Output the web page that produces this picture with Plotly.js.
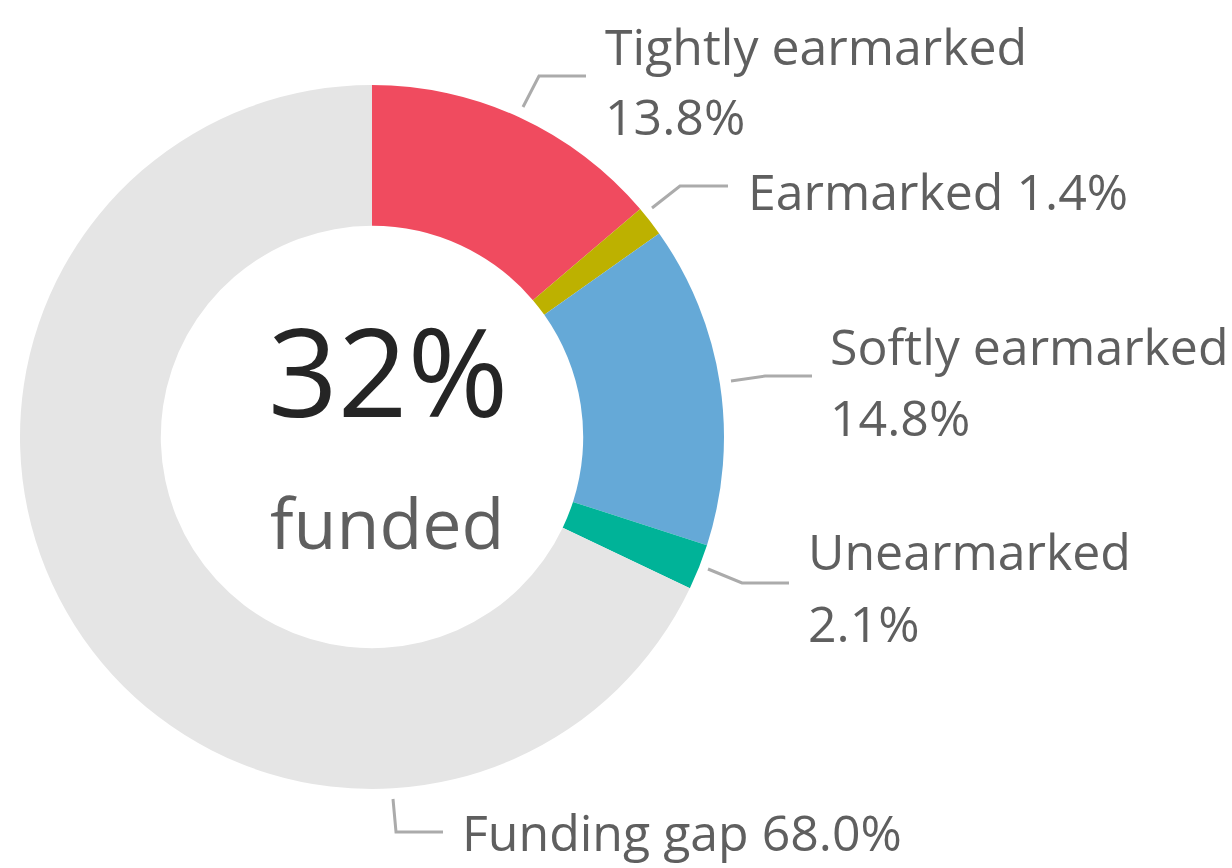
<!DOCTYPE html>
<html>
<head>
<meta charset="utf-8">
<script src="https://cdn.plot.ly/plotly-3.0.1.min.js"></script>
<style>html,body{margin:0;padding:0;background:#fff;}#chart{width:1232px;height:868px;}</style>
</head>
<body>
<div id="chart"></div>
<script>
// Data
const categories = ["Tightly earmarked", "Earmarked", "Softly earmarked", "Unearmarked", "Funding gap"];
const values = [13.8, 1.4, 14.8, 2.1, 68.0];
const valueLabels = ["13.8%", "1.4%", "14.8%", "2.1%", "68.0%"];
const centerValue = "32%";
const centerLabel = "funded";

// Styles & layout (pixel positions of labels / leader lines)
const colors = ["#F04B5F", "#BDB100", "#65A9D7", "#00B398", "#E5E5E5"];
const W = 1232, H = 868;
// ty: [first line y, second line y] (second line null => single line "name value")
const labelLayout = [
  {tx: 603, ty: [46, 116],  line: [[523,107],[539,76],[586,76]]},
  {tx: 746, ty: [191, null], line: [[652,208],[680,186],[728,186]]},
  {tx: 828, ty: [346, 417], line: [[731,381],[765,376],[812,376]]},
  {tx: 806, ty: [551, 623], line: [[708,569],[742,583],[789,583]]},
  {tx: 460, ty: [832, null], line: [[393,799],[396,832],[443,832]]}
];
const px = x => x / W, py = y => 1 - y / H;
const FONT = "Open Sans, Noto Sans, sans-serif";
const labelFont = {family: FONT, size: 50, color: "#5F5F5F"};

const trace = {
  type: "pie",
  labels: categories,
  values: values,
  sort: false,
  direction: "clockwise",
  rotation: 0,
  hole: 0.6,
  textinfo: "none",
  hoverinfo: "label+percent",
  marker: {colors: colors, line: {color: "#ffffff", width: 0}},
  domain: {x: [px(20), px(724)], y: [py(789), py(85)]},
  showlegend: false
};

const annotations = [];
const shapes = [];
function addText(txt, x, y) {
  annotations.push({
    xref: "paper", yref: "paper", x: px(x), y: py(y),
    xanchor: "left", yanchor: "middle", align: "left",
    text: txt, showarrow: false, font: labelFont
  });
}
categories.forEach((c, i) => {
  const L = labelLayout[i];
  if (L.ty[1] === null) {
    addText(c + " " + valueLabels[i], L.tx, L.ty[0]);
  } else {
    addText(c, L.tx, L.ty[0]);
    addText(valueLabels[i], L.tx, L.ty[1]);
  }
  const p = L.line;
  shapes.push({
    type: "path", xref: "paper", yref: "paper",
    path: "M" + px(p[0][0]) + "," + py(p[0][1]) + " L" + px(p[1][0]) + "," + py(p[1][1]) + " L" + px(p[2][0]) + "," + py(p[2][1]),
    line: {color: "#ABABAB", width: 3}
  });
});
annotations.push({xref: "paper", yref: "paper", x: px(388), y: py(370), xanchor: "center", yanchor: "middle",
  text: centerValue, showarrow: false, font: {family: FONT, size: 122, color: "#252525"}});
annotations.push({xref: "paper", yref: "paper", x: px(387), y: py(522), xanchor: "center", yanchor: "middle",
  text: centerLabel, showarrow: false, font: {family: FONT, size: 70, color: "#5F5F5F"}});

const layout = {
  width: W, height: H,
  margin: {l: 0, r: 0, t: 0, b: 0},
  paper_bgcolor: "#ffffff",
  annotations: annotations,
  shapes: shapes
};
Plotly.newPlot("chart", [trace], layout, {displayModeBar: false, staticPlot: true});
</script>
</body>
</html>
